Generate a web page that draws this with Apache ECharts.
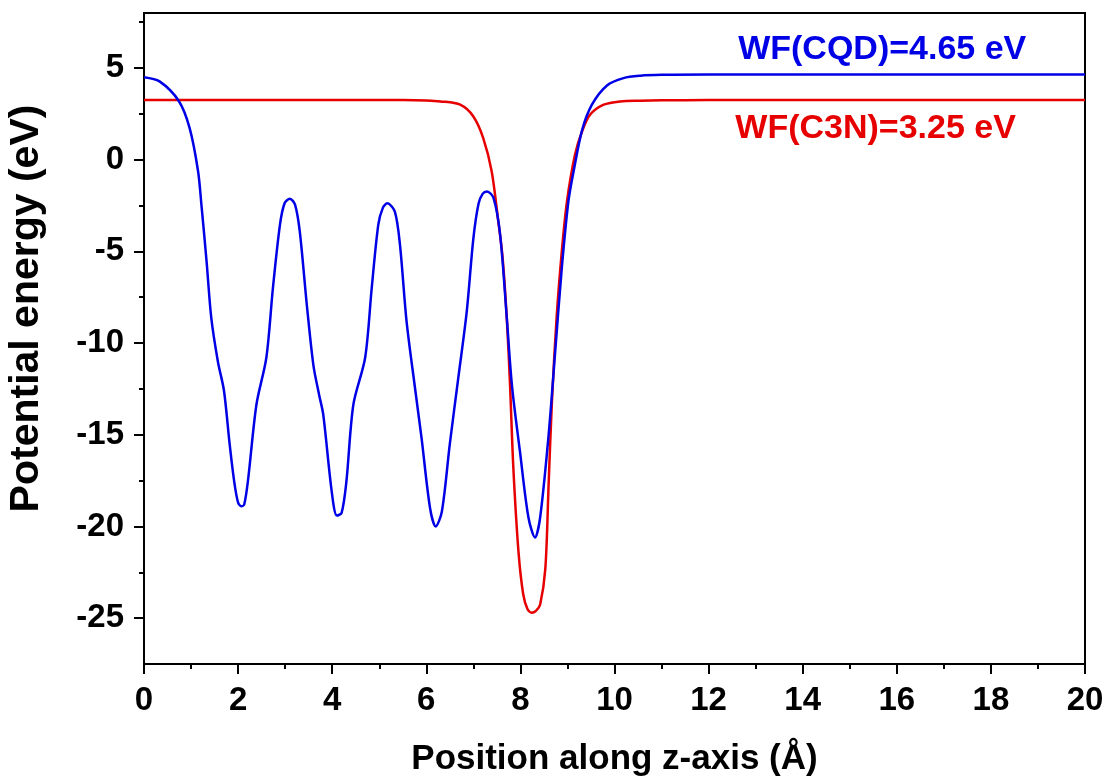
<!DOCTYPE html>
<html>
<head>
<meta charset="utf-8">
<script src="https://cdn.jsdelivr.net/npm/echarts@6/dist/echarts.min.js"></script>
<style>
  html, body { margin: 0; padding: 0; background: #ffffff; }
  #chart { width: 1109px; height: 780px; }
</style>
</head>
<body>
<div id="chart"></div>
<script>
// Electrostatic potential profile along z for the carbon quantum dot (CQD) and C3N slabs
const cqdZ = [0, 0.33, 0.74, 0.97, 1.15, 1.22, 1.33, 1.43, 1.57, 1.7, 1.82, 1.92, 2.0, 2.07, 2.13, 2.21, 2.39, 2.6, 2.74, 2.89, 2.99, 3.1, 3.21, 3.31, 3.46, 3.6, 3.72, 3.81, 3.99, 4.1, 4.2, 4.3, 4.45, 4.7, 4.84, 4.98, 5.08, 5.17, 5.33, 5.44, 5.58, 5.76, 5.9, 6.08, 6.2, 6.33, 6.5, 6.68, 6.86, 7.0, 7.11, 7.2, 7.29, 7.43, 7.57, 7.71, 7.82, 7.99, 8.17, 8.31, 8.42, 8.6, 8.74, 8.88, 9.02, 9.13, 9.31, 9.52, 9.84, 10.19, 10.55, 11, 12, 14, 16, 18, 20];
const cqdV = [4.5, 4.27, 3.2, 1.72, -0.64, -2.45, -5.54, -8.63, -11.0, -12.6, -15.5, -17.6, -18.7, -18.9, -18.8, -17.5, -13.35, -10.8, -7.0, -3.54, -2.36, -2.13, -2.45, -3.9, -7.9, -11.2, -12.8, -13.9, -18.1, -19.4, -19.26, -17.6, -13.35, -10.8, -7.0, -3.54, -2.6, -2.38, -2.82, -4.63, -8.8, -12.45, -15.2, -19.0, -20.0, -19.2, -15.5, -11.9, -8.27, -4.3, -2.4, -1.85, -1.73, -2.09, -4.1, -8.6, -12.3, -15.9, -19.5, -20.6, -19.5, -15.0, -10.45, -5.9, -2.27, -0.64, 1.6, 3.0, 4.05, 4.45, 4.58, 4.63, 4.65, 4.65, 4.65, 4.65, 4.65];

const c3nZ = [0, 2, 4, 5.5, 6.0, 6.3, 6.72, 7.0, 7.21, 7.39, 7.53, 7.62, 7.71, 7.78, 7.85, 7.96, 8.06, 8.15, 8.24, 8.33, 8.42, 8.53, 8.6, 8.67, 8.77, 8.88, 8.99, 9.16, 9.31, 9.48, 9.77, 10.12, 10.55, 11, 12, 14, 16, 18, 20];
const c3nV = [3.25, 3.25, 3.25, 3.25, 3.23, 3.18, 3.0, 2.36, 1.18, -0.64, -3.36, -5.3, -8.6, -12.3, -16.8, -21.4, -23.7, -24.5, -24.7, -24.6, -24.25, -22.3, -17.7, -13.2, -8.6, -5.0, -2.27, 0.27, 1.54, 2.45, 3.0, 3.18, 3.22, 3.24, 3.25, 3.25, 3.25, 3.25, 3.25];

const yMajorTicks = [-25, -20, -15, -10, -5, 0, 5];
const yMinorTicks = [-22.5, -17.5, -12.5, -7.5, -2.5, 2.5, 7.5];

const labelCQD = 'WF(CQD)=4.65 eV';
const labelC3N = 'WF(C3N)=3.25 eV';

const BLUE = '#0000e6';
const RED = '#e60000';
const FONT = '"Liberation Sans", Arial, sans-serif';

const zip = (xs, ys) => xs.map((x, i) => [x, ys[i]]);

const chart = echarts.init(document.getElementById('chart'), null, { renderer: 'canvas' });

chart.setOption({
  animation: false,
  backgroundColor: '#ffffff',
  textStyle: { fontFamily: FONT },
  grid: {
    left: 144, right: 24, top: 13, bottom: 116,
    outerBoundsMode: 'none',
    show: true, borderColor: '#000', borderWidth: 2
  },
  xAxis: {
    type: 'value',
    min: 0, max: 20, interval: 2,
    name: 'Position along z-axis (Å)',
    nameLocation: 'middle',
    nameGap: 78,
    nameTextStyle: { fontSize: 35, fontWeight: 'bold', color: '#000', fontFamily: FONT },
    axisLine: { onZero: false, lineStyle: { color: '#000', width: 2 } },
    axisTick: { show: true, inside: false, length: 10, lineStyle: { color: '#000', width: 2 } },
    minorTick: { show: true, splitNumber: 2, length: 5, lineStyle: { color: '#000', width: 2 } },
    axisLabel: { fontSize: 33, fontWeight: 'bold', color: '#000', margin: 20, fontFamily: FONT },
    splitLine: { show: false }
  },
  yAxis: [
    {
      type: 'value',
      position: 'left',
      min: -27.5, max: 8,
      name: 'Potential energy (eV)',
      nameLocation: 'middle',
      nameGap: 97,
      // title sits a little above the vertical centre of the plot
      nameTextStyle: { fontSize: 41, fontWeight: 'bold', color: '#000', fontFamily: FONT, padding: [0, 0, 0, 60] },
      axisLine: { onZero: false, lineStyle: { color: '#000', width: 2 } },
      axisTick: { show: true, inside: false, length: 10, customValues: yMajorTicks, lineStyle: { color: '#000', width: 2 } },
      axisLabel: { fontSize: 33, fontWeight: 'bold', color: '#000', margin: 20, customValues: yMajorTicks, fontFamily: FONT },
      splitLine: { show: false }
    },
    {
      type: 'value',
      position: 'left',
      offset: 0,
      min: -27.5, max: 8,
      axisLine: { show: false, onZero: false },
      axisTick: { show: true, inside: false, length: 5, customValues: yMinorTicks, lineStyle: { color: '#000', width: 2 } },
      axisLabel: { show: false },
      splitLine: { show: false }
    }
  ],
  series: [
    {
      name: 'C3N',
      type: 'line',
      data: zip(c3nZ, c3nV),
      showSymbol: false,
      smooth: 0.3,
      lineStyle: { color: RED, width: 2.5 },
      itemStyle: { color: RED },
      markPoint: {
        symbol: 'rect', symbolSize: 0,
        data: [{ coord: [15.55, 1.72] }],
        label: { show: true, position: 'inside', formatter: labelC3N, color: RED, fontSize: 34, fontWeight: 'bold', fontFamily: FONT }
      }
    },
    {
      name: 'CQD',
      type: 'line',
      data: zip(cqdZ, cqdV),
      showSymbol: false,
      smooth: 0.3,
      lineStyle: { color: BLUE, width: 2.5 },
      itemStyle: { color: BLUE },
      markPoint: {
        symbol: 'rect', symbolSize: 0,
        data: [{ coord: [15.69, 6.0] }],
        label: { show: true, position: 'inside', formatter: labelCQD, color: BLUE, fontSize: 34, fontWeight: 'bold', fontFamily: FONT }
      }
    }
  ]
});
</script>
</body>
</html>
